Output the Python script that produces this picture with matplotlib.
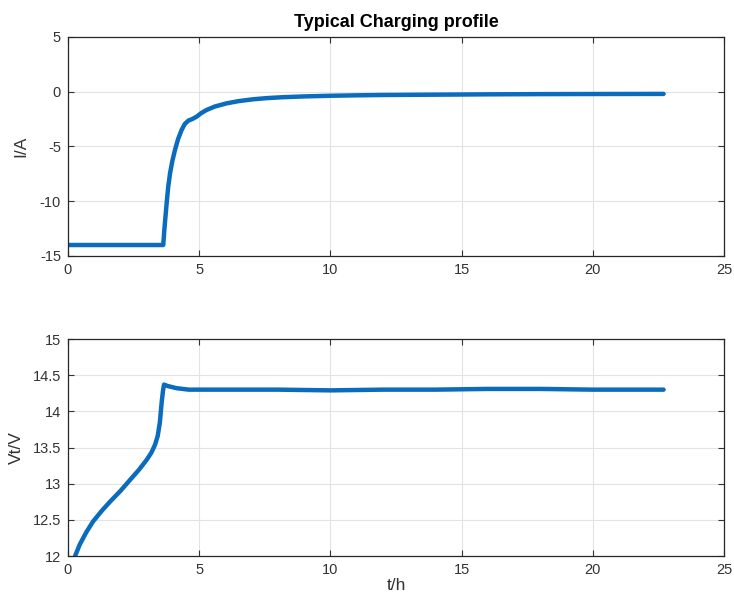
import numpy as np
import matplotlib
matplotlib.use("Agg")
import matplotlib.pyplot as plt
from matplotlib.ticker import FormatStrFormatter

plt.rcParams['font.family'] = ['Liberation Sans', 'DejaVu Sans']

# charging current (h, A)
t_cur = [0.0, 1.0, 2.0, 3.0, 3.63, 3.68, 3.76, 3.82, 3.89, 3.98, 4.08, 4.20,
         4.33, 4.45, 4.59, 4.75, 4.90, 5.08, 5.28, 5.60, 6.05, 6.50, 7.06, 7.60,
         8.20, 9.00, 10.0, 11.0, 12.0, 14.0, 16.0, 18.0, 20.0, 22.7]
i_cur = [-14.0, -14.0, -14.0, -14.0, -14.0, -12.4, -10.2, -8.7, -7.45, -6.3,
         -5.3, -4.3, -3.5, -2.95, -2.64, -2.48, -2.28, -1.95, -1.67, -1.35, -1.06,
         -0.86, -0.69, -0.58, -0.50, -0.43, -0.37, -0.33, -0.30, -0.27, -0.24,
         -0.22, -0.21, -0.20]

# terminal voltage (h, V)
t_volt = [0.27, 0.45, 0.70, 0.96, 1.30, 1.60, 2.00, 2.36, 2.70, 3.00, 3.18, 3.32,
          3.42, 3.50, 3.57, 3.62, 3.66, 3.80, 4.14, 4.60, 5.00, 6.00, 8.00, 10.0,
          12.0, 14.0, 16.0, 18.0, 20.0, 22.7]
v_volt = [12.0, 12.16, 12.33, 12.48, 12.63, 12.75, 12.90, 13.05, 13.19, 13.33,
          13.43, 13.54, 13.66, 13.84, 14.12, 14.28, 14.37, 14.35, 14.32, 14.30,
          14.30, 14.30, 14.30, 14.29, 14.30, 14.30, 14.31, 14.31, 14.30, 14.30]

line_color = '#0b6cbd'
tick_color = '#333333'

fig = plt.figure(figsize=(7.34, 6.03), dpi=100)
ax1 = fig.add_axes([0.0926, 0.5755, 0.8937, 0.3632])
ax2 = fig.add_axes([0.0926, 0.0779, 0.8937, 0.3599])

for ax in (ax1, ax2):
    ax.grid(True, color='#e3e3e3', linewidth=0.8)
    ax.set_axisbelow(True)
    ax.tick_params(direction='in', top=True, right=True, labelsize=10.5,
                   colors=tick_color, length=4, pad=5)
    for sp in ax.spines.values():
        sp.set_color('#262626')
        sp.set_linewidth(0.9)
    ax.set_xlim(0, 25)
    ax.set_xticks(np.arange(0, 26, 5))
    ax.yaxis.set_major_formatter(FormatStrFormatter('%g'))

ax1.plot(t_cur, i_cur, color=line_color, linewidth=3.2, solid_capstyle='round')
ax1.set_ylim(-15, 5)
ax1.set_yticks(np.arange(-15, 6, 5))
ax1.set_ylabel('I/A', fontsize=12.5, color=tick_color, labelpad=8)
ax1.set_title('Typical Charging profile', fontsize=13, fontweight='bold', pad=7)

ax2.plot(t_volt, v_volt, color=line_color, linewidth=3.2, solid_capstyle='round')
ax2.set_ylim(12, 15)
ax2.set_yticks(np.arange(12, 15.01, 0.5))
ax2.set_ylabel('Vt/V', fontsize=12.5, color=tick_color, labelpad=6)
ax2.set_xlabel('t/h', fontsize=12.5, color=tick_color, labelpad=1)

fig.savefig('out.png', dpi=100)
